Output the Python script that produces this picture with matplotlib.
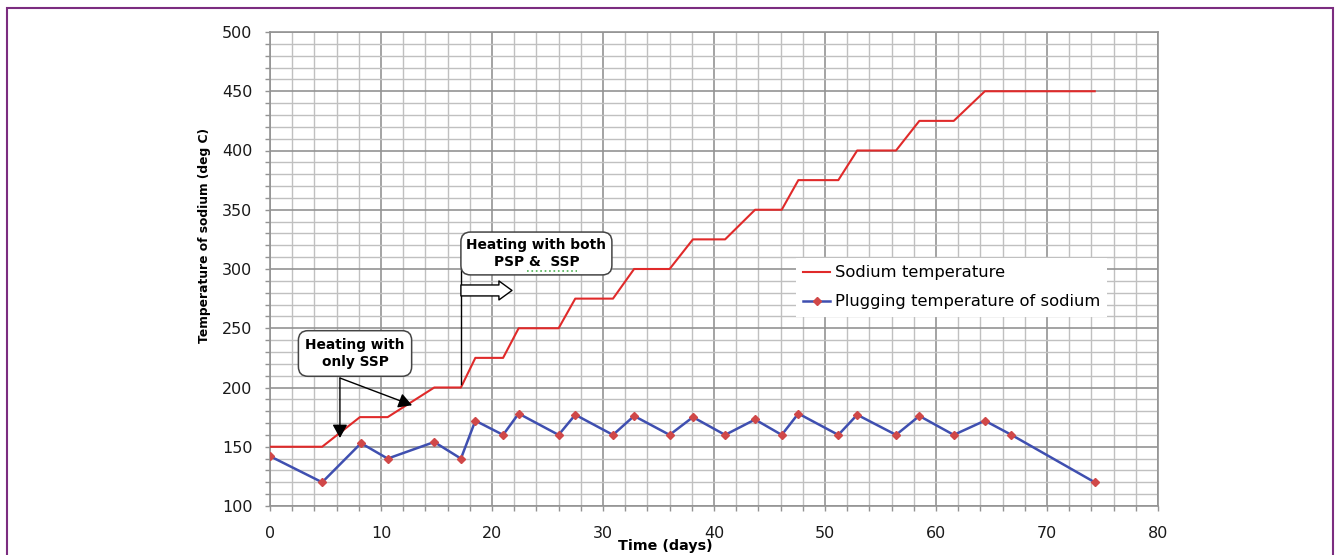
import matplotlib.pyplot as plt
from matplotlib.patches import FancyArrowPatch, Rectangle
from matplotlib.ticker import MultipleLocator

# data
sodium_days = [0, 4.7, 8.1, 10.6, 14.8, 17.2, 18.5, 21.0, 22.4, 26.0, 27.5, 30.9, 32.8,
               36.0, 38.1, 41.0, 43.7, 46.1, 47.6, 51.2, 52.9, 56.4, 58.5, 61.6, 64.4, 74.3]
sodium_temp = [150, 150, 175, 175, 200, 200, 225, 225, 250, 250, 275, 275, 300,
               300, 325, 325, 350, 350, 375, 375, 400, 400, 425, 425, 450, 450]

plug_days = [0, 4.7, 8.2, 10.6, 14.8, 17.2, 18.5, 21.0, 22.4, 26.0, 27.5, 30.9, 32.8, 36.0,
             38.1, 41.0, 43.7, 46.1, 47.6, 51.2, 52.9, 56.4, 58.5, 61.6, 64.4, 66.8, 74.3]
plug_temp = [142, 120, 153, 140, 154, 140, 172, 160, 178, 160, 177, 160, 176, 160,
             175, 160, 173, 160, 178, 160, 177, 160, 176, 160, 172, 160, 120]

series_names = ["Sodium temperature", "Plugging temperature of sodium"]

plt.rcParams['font.family'] = ['DejaVu Sans']

fig = plt.figure(figsize=(13.39, 5.55), dpi=100)
ax = fig.add_axes([270 / 1339, 1 - 506 / 555, 888 / 1339, 474 / 555])

# purple frame around the figure
fig.add_artist(Rectangle((7 / 1339, -0.02), 1326 / 1339, 1.02 - 8 / 555,
                         transform=fig.transFigure, fill=False,
                         edgecolor='#7b2d80', linewidth=1.5))

ax.set_xlim(0, 80)
ax.set_ylim(100, 500)
ax.xaxis.set_major_locator(MultipleLocator(10))
ax.xaxis.set_minor_locator(MultipleLocator(2))
ax.yaxis.set_major_locator(MultipleLocator(50))
ax.yaxis.set_minor_locator(MultipleLocator(10))

ax.grid(which='minor', color='#c0c0c0', linewidth=1.0, zorder=0)
ax.grid(which='major', color='#939393', linewidth=1.2, zorder=0)
ax.set_axisbelow(True)
for s in ax.spines.values():
    s.set_color('#939393')
    s.set_linewidth(1.2)

ax.tick_params(which='both', direction='out', length=3.6, color='#939393', width=1)
ax.tick_params(axis='x', which='major', pad=11, labelsize=11.5, labelcolor='#1a1a1a')
ax.tick_params(axis='y', which='major', pad=9, labelsize=11.5, labelcolor='#1a1a1a')

ax.plot(sodium_days, sodium_temp, color='#e02a2a', linewidth=1.5, label=series_names[0], zorder=3)
ax.plot(plug_days, plug_temp, color='#3f4fb0', linewidth=1.8, marker='D', markersize=4.5,
        markerfacecolor='#d04848', markeredgecolor='#d04848', label=series_names[1], zorder=4)

ax.set_ylabel("Temperature of sodium (deg C)", fontsize=8.8, fontweight='bold')
ax.yaxis.set_label_coords(-0.0743, 0.5707)
ax.yaxis.label.set_va('center')
ax.set_xlabel("Time (days)", fontsize=10.3, fontweight='bold')
ax.xaxis.set_label_coords(0.4448, (506 - 539) / 474)

leg = ax.legend(loc='upper left', bbox_to_anchor=((796 - 270) / 888, (506 - 258) / 474),
                borderaxespad=0, fontsize=11.8, handlelength=1.65, handletextpad=0.25,
                labelspacing=0.85, borderpad=0.45, frameon=True, fancybox=False)
leg.get_frame().set_facecolor('white')
leg.get_frame().set_edgecolor('none')
leg.get_frame().set_alpha(1)

# annotation 1: heating with only SSP
box_style = dict(boxstyle='round,pad=0.5,rounding_size=0.7', facecolor='white',
                 edgecolor='#444444', linewidth=1.1)
ax.text(7.66, 228.7, "Heating with\nonly SSP", ha='center', va='center', fontsize=9.9,
        fontweight='bold', linespacing=1.35, bbox=box_style, zorder=6)
arrow_start = (6.3, 208)
for end in [(6.3, 157.4), (12.8, 185)]:
    ax.annotate('', xy=end, xytext=arrow_start,
                arrowprops=dict(arrowstyle='-|>,head_length=0.45,head_width=0.25',
                                color='black', lw=1, mutation_scale=18,
                                shrinkA=0, shrinkB=0), zorder=7)

# annotation 2: heating with both PSP & SSP
ax.plot([17.2, 17.2], [300, 203], color='black', linewidth=1, zorder=5)
ax.text(24.0, 313.1, "Heating with both\nPSP &  SSP", ha='center', va='center', fontsize=9.9,
        fontweight='bold', linespacing=1.35,
        bbox=dict(boxstyle='round,pad=0.4,rounding_size=0.7', facecolor='white',
                  edgecolor='#444444', linewidth=1.1), zorder=6)
ax.plot([23.15, 27.66], [298.6, 298.6], color='#4caf50', linewidth=1.2, linestyle=':', zorder=7)
hollow = FancyArrowPatch((17.2, 281.9), (21.8, 281.9),
                         arrowstyle='simple,head_length=9.4,head_width=13.7,tail_width=7.9',
                         mutation_scale=1, facecolor='white', edgecolor='black',
                         linewidth=1, shrinkA=0, shrinkB=0, zorder=6)
ax.add_patch(hollow)

fig.savefig('out.png', dpi=100)
